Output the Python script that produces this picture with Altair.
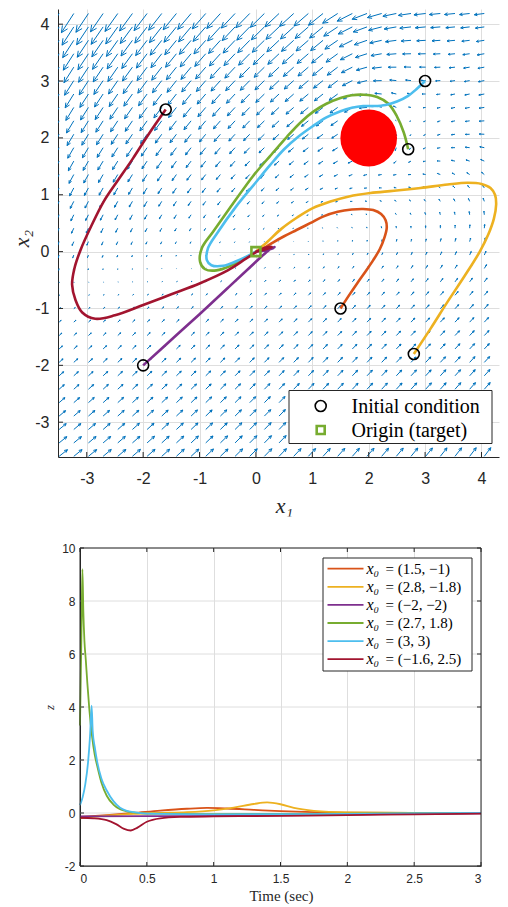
import numpy as np
import pandas as pd
import altair as alt

# ---------------- values ----------------
SERIES = ["(1.5, −1)", "(2.8, −1.8)", "(−2, −2)", "(2.7, 1.8)", "(3, 3)", "(−1.6, 2.5)"]
COLORS = ["#D95319", "#EDB120", "#7E2F8E", "#77AC30", "#4DBEEE", "#A2142F"]

init_x1 = [1.5, 2.8, -2.0, 2.7, 3.0, -1.6]
init_x2 = [-1.0, -1.8, -2.0, 1.8, 3.0, 2.5]
target_x1 = [0.0]
target_x2 = [0.0]
obstacle_x1 = [2.0]
obstacle_x2 = [2.0]
obstacle_r = 0.5

# phase-plane trajectories
p1_x1 = [1.5, 1.65, 1.8, 1.95, 2.08, 2.2, 2.28, 2.32, 2.3, 2.22, 2.08, 1.9, 1.7, 1.45, 1.2, 0.96, 0.72, 0.5, 0.3, 0.13, 0.0]
p1_x2 = [-1.0, -0.77, -0.55, -0.34, -0.15, 0.05, 0.25, 0.42, 0.55, 0.66, 0.73, 0.75, 0.74, 0.7, 0.62, 0.5, 0.38, 0.27, 0.16, 0.06, 0.0]
p2_x1 = [2.8, 3.1, 3.4, 3.7, 3.97, 4.12, 4.22, 4.26, 4.24, 4.16, 4.0, 3.75, 3.4, 2.92, 2.45, 2.03, 1.65, 1.32, 1.0, 0.73, 0.45, 0.2, 0.07, 0.0]
p2_x2 = [-1.8, -1.35, -0.88, -0.43, 0.0, 0.3, 0.58, 0.83, 1.0, 1.12, 1.19, 1.21, 1.18, 1.12, 1.07, 1.03, 0.97, 0.88, 0.76, 0.6, 0.4, 0.17, 0.06, 0.0]
p3_x1 = [-2.0, -1.5, -1.0, -0.5, -0.1, 0.15, 0.28, 0.33, 0.3, 0.2, 0.08, 0.0]
p3_x2 = [-2.0, -1.55, -1.1, -0.64, -0.27, -0.04, 0.06, 0.08, 0.06, 0.03, 0.01, 0.0]
p4_x1 = [2.7, 2.62, 2.5, 2.35, 2.15, 1.91, 1.7, 1.5, 1.25, 1.03, 0.8, 0.55, 0.25, -0.05, -0.46, -0.76, -0.96, -0.99, -0.9, -0.7, -0.45, -0.2, 0.0]
p4_x2 = [1.8, 2.1, 2.38, 2.6, 2.72, 2.76, 2.75, 2.7, 2.6, 2.47, 2.28, 2.02, 1.68, 1.33, 0.77, 0.35, 0.06, -0.18, -0.31, -0.33, -0.25, -0.12, 0.0]
p5_x1 = [3.0, 2.85, 2.7, 2.5, 2.3, 2.1, 1.9, 1.7, 1.5, 1.25, 1.0, 0.75, 0.5, 0.25, 0.0, -0.37, -0.67, -0.85, -0.87, -0.79, -0.58, -0.35, -0.15, 0.0]
p5_x2 = [3.0, 2.86, 2.74, 2.64, 2.58, 2.56, 2.56, 2.53, 2.47, 2.36, 2.2, 2.02, 1.8, 1.52, 1.22, 0.77, 0.35, 0.06, -0.15, -0.24, -0.25, -0.17, -0.08, 0.0]
p6_x1 = [-1.6, -1.9, -2.18, -2.45, -2.7, -2.92, -3.11, -3.22, -3.26, -3.2, -3.08, -2.85, -2.5, -2.0, -1.5, -1.0, -0.5, -0.17, 0.07, 0.22, 0.28, 0.2, 0.08, 0.0]
p6_x2 = [2.5, 2.07, 1.64, 1.25, 0.88, 0.45, 0.03, -0.3, -0.58, -0.85, -1.07, -1.18, -1.12, -0.94, -0.75, -0.56, -0.33, -0.12, 0.03, 0.08, 0.08, 0.05, 0.02, 0.0]
PATHS_X1 = [p1_x1, p2_x1, p3_x1, p4_x1, p5_x1, p6_x1]
PATHS_X2 = [p1_x2, p2_x2, p3_x2, p4_x2, p5_x2, p6_x2]

# time histories of z
t1 = [0, 0.2, 0.4, 0.6, 0.8, 0.95, 1.1, 1.3, 1.5, 1.75, 2.0, 2.5, 3.0]
z1 = [-0.15, -0.08, 0.0, 0.09, 0.16, 0.19, 0.17, 0.12, 0.07, 0.03, 0.01, 0.0, 0.0]
t2 = [0, 0.2, 0.4, 0.6, 0.8, 1.0, 1.15, 1.3, 1.4, 1.5, 1.6, 1.75, 2.0, 2.5, 3.0]
z2 = [-0.2, -0.1, -0.03, 0.0, 0.03, 0.1, 0.2, 0.34, 0.4, 0.33, 0.19, 0.08, 0.02, 0.0, 0.0]
t3 = [0, 0.5, 1.0, 1.5, 2.0, 2.5, 3.0]
z3 = [-0.13, -0.12, -0.11, -0.09, -0.06, -0.03, -0.01]
t4 = [0, 0.006, 0.012, 0.018, 0.025, 0.033, 0.043, 0.055, 0.07, 0.09, 0.11, 0.13, 0.16, 0.2, 0.25, 0.3, 0.35, 0.4, 0.5, 1.0, 2.0, 3.0]
z4 = [3.3, 5.2, 7.2, 9.2, 7.6, 6.5, 5.8, 4.9, 3.9, 2.9, 2.2, 1.75, 1.15, 0.65, 0.32, 0.14, 0.06, 0.02, -0.02, -0.04, -0.02, 0.0]
t5 = [0, 0.02, 0.04, 0.06, 0.075, 0.087, 0.095, 0.11, 0.13, 0.16, 0.2, 0.25, 0.3, 0.35, 0.4, 0.5, 1.0, 2.0, 3.0]
z5 = [0.3, 0.6, 1.1, 1.9, 2.9, 4.05, 3.1, 2.5, 1.9, 1.3, 0.85, 0.45, 0.2, 0.08, 0.03, -0.02, -0.05, -0.03, 0.0]
t6 = [0, 0.1, 0.2, 0.27, 0.33, 0.38, 0.43, 0.5, 0.6, 0.75, 1.0, 1.5, 2.0, 2.5, 3.0]
z6 = [-0.18, -0.2, -0.27, -0.42, -0.6, -0.66, -0.55, -0.33, -0.2, -0.15, -0.13, -0.11, -0.08, -0.05, -0.02]
TS_T = [t1, t2, t3, t4, t5, t6]
TS_Z = [z1, z2, z3, z4, z5, z6]

tick_x1 = [-3, -2, -1, 0, 1, 2, 3, 4]
tick_x2 = [-3, -2, -1, 0, 1, 2, 3, 4]
tick_t = [0, 0.5, 1, 1.5, 2, 2.5, 3]
tick_z = [-2, 0, 2, 4, 6, 8, 10]
top_legend_labels = ["Initial condition", "Origin (target)"]

# vector-field model (coefficients estimated from the arrows in the picture)
grid_x1 = np.arange(-3.49, 4.29, 0.26)
grid_x2 = np.arange(-3.60, 4.26, 0.236)
cbf_alpha = 2.0
arrow_scale = 0.047

# ---------------- styling ----------------
SANS = "Liberation Sans"
SERIF = "Liberation Serif"
INK = "#262626"
GRID = "#dedede"

# ---------------- vector field table ----------------
X, Y = np.meshgrid(grid_x1, grid_x2)
a = 0.14 - 0.018 * Y ** 2
c = 0.35 + 0.25 * np.tanh(Y)
F1 = a * X - Y - 0.06 * Y ** 2
F2 = c * X - Y - 0.06 * Y ** 2
dx, dy = X - obstacle_x1[0], Y - obstacle_x2[0]
h = dx ** 2 + dy ** 2 - obstacle_r ** 2
gdot = 2 * (dx * F1 + dy * F2)
lam = np.maximum(0.0, (-cbf_alpha * h - gdot) / (4 * (dx ** 2 + dy ** 2) + 1e-9))
U1 = (F1 + lam * 2 * dx) * arrow_scale
U2 = (F2 + lam * 2 * dy) * arrow_scale
x0, y0 = X.ravel(), Y.ravel()
u, v = U1.ravel(), U2.ravel()
tx, ty = x0 + u, y0 + v
L = np.hypot(u, v) + 1e-12
bx, by = -u / L, -v / L
hl = 0.32 * L
ang = np.deg2rad(25)
segs = [(x0, y0, tx, ty)]
for s in (ang, -ang):
    rx = bx * np.cos(s) - by * np.sin(s)
    ry = bx * np.sin(s) + by * np.cos(s)
    segs.append((tx, ty, tx + hl * rx, ty + hl * ry))
quiver = pd.DataFrame({
    "x": np.concatenate([s[0] for s in segs]).round(4),
    "y": np.concatenate([s[1] for s in segs]).round(4),
    "x2": np.concatenate([s[2] for s in segs]).round(4),
    "y2": np.concatenate([s[3] for s in segs]).round(4),
})

# ---------------- top panel ----------------
W1, H1 = 441, 448
PXX, PXY = 56.39, 56.86            # pixels per unit
X1_DOM = [-3.51, -3.51 + W1 / PXX]
X2_DOM = [4.267 - H1 / PXY, 4.267]
sx = alt.Scale(domain=X1_DOM, nice=False, zero=False)
sy = alt.Scale(domain=X2_DOM, nice=False, zero=False)

ax1 = alt.Axis(values=tick_x1, grid=True, gridColor=GRID, ticks=False, tickSize=0,
               domainColor=INK, labelFont=SANS, labelFontSize=16, labelColor=INK,
               labelPadding=13, labelExpr="'' + datum.value",
               title="x₁", titleFont=SERIF, titleFontStyle="italic", titleFontWeight="normal",
               titleFontSize=22, titleColor=INK, titleX=226, titleY=48,
               titleAlign="center", titleBaseline="middle")
ax2 = alt.Axis(values=tick_x2, grid=True, gridColor=GRID, ticks=False, tickSize=0,
               domainColor=INK, labelFont=SANS, labelFontSize=16, labelColor=INK,
               labelPadding=9, labelExpr="'' + datum.value",
               title="x₂", titleFont=SERIF, titleFontStyle="italic", titleFontWeight="normal",
               titleFontSize=22, titleColor=INK, titleX=-36.5, titleY=229,
               titleAlign="center", titleBaseline="middle")

one = pd.DataFrame({"k": [0]})
top_layers = []
top_layers.append(alt.Chart(quiver).mark_rule(color="#0072BD", strokeWidth=1.0, clip=True).encode(
    x=alt.X("x:Q", scale=sx, axis=ax1), y=alt.Y("y:Q", scale=sy, axis=ax2),
    x2="x2:Q", y2="y2:Q"))
# inward ticks
top_layers.append(alt.Chart(pd.DataFrame({"v": tick_x2})).mark_rule(color=INK).encode(
    y=alt.Y("v:Q", scale=sy, axis=ax2), x=alt.value(0), x2=alt.value(5)))
top_layers.append(alt.Chart(pd.DataFrame({"v": tick_x1})).mark_rule(color=INK).encode(
    x=alt.X("v:Q", scale=sx, axis=ax1), y=alt.value(H1), y2=alt.value(H1 - 5)))
# obstacle
top_layers.append(alt.Chart(pd.DataFrame({"x": obstacle_x1, "y": obstacle_x2})).mark_point(
    shape="circle", filled=True, color="#FF0000", opacity=1,
    size=(obstacle_r * (PXX + PXY)) ** 2).encode(
    x=alt.X("x:Q", scale=sx, axis=ax1), y=alt.Y("y:Q", scale=sy, axis=ax2)))
# trajectories
for i in range(6):
    d = pd.DataFrame({"x": PATHS_X1[i], "y": PATHS_X2[i], "k": range(len(PATHS_X1[i]))})
    top_layers.append(alt.Chart(d).mark_line(color=COLORS[i], strokeWidth=2.6,
                                             interpolate="catmull-rom", clip=True).encode(
        x=alt.X("x:Q", scale=sx, axis=ax1), y=alt.Y("y:Q", scale=sy, axis=ax2), order="k:Q"))
# markers
top_layers.append(alt.Chart(pd.DataFrame({"x": init_x1, "y": init_x2})).mark_point(
    shape="circle", filled=False, color="black", size=121, strokeWidth=1.6, opacity=1).encode(
    x=alt.X("x:Q", scale=sx, axis=ax1), y=alt.Y("y:Q", scale=sy, axis=ax2)))
top_layers.append(alt.Chart(pd.DataFrame({"x": target_x1, "y": target_x2})).mark_point(
    shape="square", filled=False, color="#77AC30", size=81, strokeWidth=2.6, opacity=1).encode(
    x=alt.X("x:Q", scale=sx, axis=ax1), y=alt.Y("y:Q", scale=sy, axis=ax2)))
# legend (top)
LX0, LX1, LY0, LY1 = 231, 434, 381.5, 434.5
top_layers.append(alt.Chart(one).mark_rect(fill="white", stroke=INK, strokeWidth=1).encode(
    x=alt.value(LX0), x2=alt.value(LX1), y=alt.value(LY0), y2=alt.value(LY1)))
top_layers.append(alt.Chart(one).mark_point(shape="circle", filled=False, color="black",
                                            size=121, strokeWidth=1.6, opacity=1).encode(
    x=alt.value(262.7), y=alt.value(397)))
top_layers.append(alt.Chart(one).mark_point(shape="square", filled=False, color="#77AC30",
                                            size=64, strokeWidth=2.6, opacity=1).encode(
    x=alt.value(262.7), y=alt.value(421)))
for j, lab in enumerate(top_legend_labels):
    top_layers.append(alt.Chart(pd.DataFrame({"label": [lab]})).mark_text(
        align="left", baseline="middle", font=SERIF, fontSize=20, color="black").encode(
        x=alt.value(293.5), y=alt.value(397.5 + 24 * j), text="label:N"))
# invisible spacers fixing the outer bounds
top_layers.append(alt.Chart(one).mark_rule(color="white").encode(x=alt.value(-48.8)))
top_layers.append(alt.Chart(one).mark_rule(color="white").encode(y=alt.value(H1 + 60)))

top = alt.layer(*top_layers).properties(width=W1, height=H1,
                                        view=alt.ViewBackground(stroke="transparent"))

# ---------------- bottom panel ----------------
SH = 22           # horizontal shift of the lower plot relative to the upper one
PW2, H2 = 401, 318
W2 = SH + PW2
st = alt.Scale(domain=[0, 3], range=[SH, W2], nice=False, zero=False)
sz = alt.Scale(domain=[-2, 10], nice=False, zero=False)
axT = alt.Axis(values=tick_t, grid=True, gridColor=GRID, ticks=False, tickSize=0,
               domainColor=INK, labelFont=SANS, labelFontSize=12, labelColor=INK,
               labelPadding=7, labelExpr="'' + datum.value",
               title="Time (sec)", titleFont=SERIF, titleFontWeight="normal",
               titleFontSize=15, titleColor=INK, titleX=SH + 201, titleY=29,
               titleAlign="center", titleBaseline="middle")
axZ = alt.Axis(values=tick_z, grid=False, ticks=False, tickSize=0, offset=-SH,
               domainColor=INK, labelFont=SANS, labelFontSize=12, labelColor=INK,
               labelPadding=5, labelExpr="'' + datum.value",
               title="z", titleFont=SERIF, titleFontStyle="italic", titleFontWeight="normal",
               titleFontSize=13, titleColor=INK, titleX=-31, titleY=159,
               titleAlign="center", titleBaseline="middle")

bot_layers = []
tt = pd.DataFrame({"v": tick_t})
tz = pd.DataFrame({"v": tick_z})
bot_layers.append(alt.Chart(tz).mark_rule(color=GRID).encode(
    y=alt.Y("v:Q", scale=sz, axis=axZ), x=alt.value(SH), x2=alt.value(W2)))
bot_layers.append(alt.Chart(tt).mark_rule(color=INK).encode(
    x=alt.X("v:Q", scale=st, axis=axT), y=alt.value(H2), y2=alt.value(H2 - 4)))
bot_layers.append(alt.Chart(tt).mark_rule(color=INK).encode(
    x=alt.X("v:Q", scale=st, axis=axT), y=alt.value(0), y2=alt.value(4)))
bot_layers.append(alt.Chart(tz).mark_rule(color=INK).encode(
    y=alt.Y("v:Q", scale=sz, axis=axZ), x=alt.value(SH), x2=alt.value(SH + 4)))
bot_layers.append(alt.Chart(tz).mark_rule(color=INK).encode(
    y=alt.Y("v:Q", scale=sz, axis=axZ), x=alt.value(W2), x2=alt.value(W2 - 4)))
for i in range(6):
    d = pd.DataFrame({"t": TS_T[i], "z": TS_Z[i], "k": range(len(TS_T[i]))})
    bot_layers.append(alt.Chart(d).mark_line(color=COLORS[i], strokeWidth=1.8,
                                             interpolate="monotone", clip=True).encode(
        x=alt.X("t:Q", scale=st, axis=axT), y=alt.Y("z:Q", scale=sz, axis=axZ), order="k:Q"))
# plot box
bot_layers.append(alt.Chart(one).mark_rect(fillOpacity=0, stroke=INK, strokeWidth=1).encode(
    x=alt.value(SH), x2=alt.value(W2), y=alt.value(0), y2=alt.value(H2)))
# legend (bottom)
bot_layers.append(alt.Chart(one).mark_rect(fill="white", stroke=INK, strokeWidth=1).encode(
    x=alt.value(SH + 243), x2=alt.value(SH + 392), y=alt.value(10), y2=alt.value(123)))
for i in range(6):
    ry = 20.7 + 18.1 * i
    bot_layers.append(alt.Chart(one).mark_rule(color=COLORS[i], strokeWidth=1.8).encode(
        x=alt.value(SH + 247.5), x2=alt.value(SH + 283.5), y=alt.value(ry)))
    bot_layers.append(alt.Chart(pd.DataFrame({"label": ["x₀"]})).mark_text(
        align="left", baseline="middle", font=SERIF, fontSize=16, fontStyle="italic",
        color="black").encode(x=alt.value(SH + 286.5), y=alt.value(ry), text="label:N"))
    bot_layers.append(alt.Chart(pd.DataFrame({"label": ["= " + SERIES[i]]})).mark_text(
        align="left", baseline="middle", font=SERIF, fontSize=15, color="black").encode(
        x=alt.value(SH + 305.5), y=alt.value(ry), text="label:N"))

bottom = alt.layer(*bot_layers).properties(width=W2, height=H2,
                                           view=alt.ViewBackground(stroke="transparent"))

chart = alt.vconcat(top, bottom, spacing=23).properties(padding=0, background="white")
chart.save("out.html", embed_options={"renderer": "svg", "actions": False})
